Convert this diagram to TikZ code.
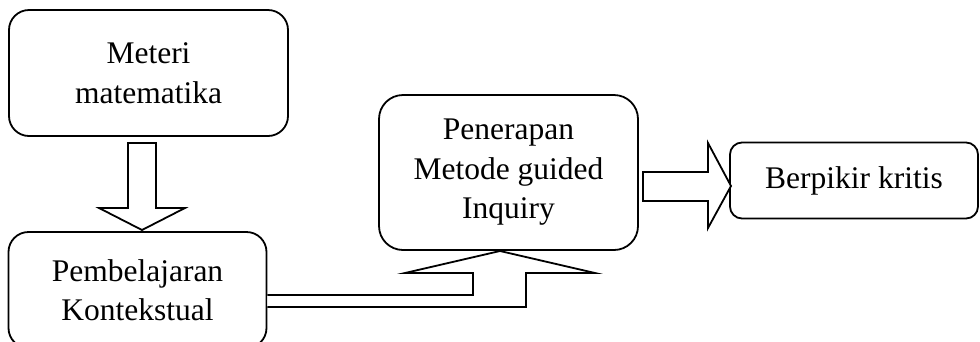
\documentclass[tikz,border=0pt]{standalone}
\usepackage{fontspec}
\setmainfont{Liberation Serif}
\begin{document}
\begin{tikzpicture}[x=1pt,y=-1pt,
  box/.style={draw, line width=1.8pt, rounded corners=20pt, align=center, inner sep=0pt,
    font=\fontsize{31.5}{39.5}\selectfont},
  blockarrow/.style={draw, line width=1.8pt, line join=miter, fill=white}]
\clip (0,0) rectangle (980,341);
\node[box, minimum width=279pt, minimum height=126pt] (b1) at (148.5,73) {Meteri\\matematika};
\node[box, minimum width=258pt, minimum height=116pt] (b2) at (137.5,290) {Pembelajaran\\Kontekstual};
\node[box, rounded corners=24pt, minimum width=259pt, minimum height=155pt] (b3) at (508.5,172.5) {Penerapan\\Metode guided\\Inquiry};
\node[box, rounded corners=12pt, minimum width=248pt, minimum height=76pt] (b4) at (854,180.5) {Berpikir kritis};
% down arrow b1 -> b2
\draw[blockarrow] (128,143) -- (156,143) -- (156,208) -- (185,208) -- (142,230) -- (99,208) -- (128,208) -- cycle;
% bent arrow b2 -> b3
\draw[blockarrow] (b2.east |- 0,295) -- (473,295) -- (473,273) -- (405,273) -- (500,251) -- (595,273) -- (526,273) -- (526,307) -- (b2.east |- 0,307);
% right arrow b3 -> b4
\draw[blockarrow] (643,172) -- (708,172) -- (708,143) -- (731,186) -- (708,228) -- (708,201) -- (643,201) -- cycle;
\end{tikzpicture}
\end{document}
